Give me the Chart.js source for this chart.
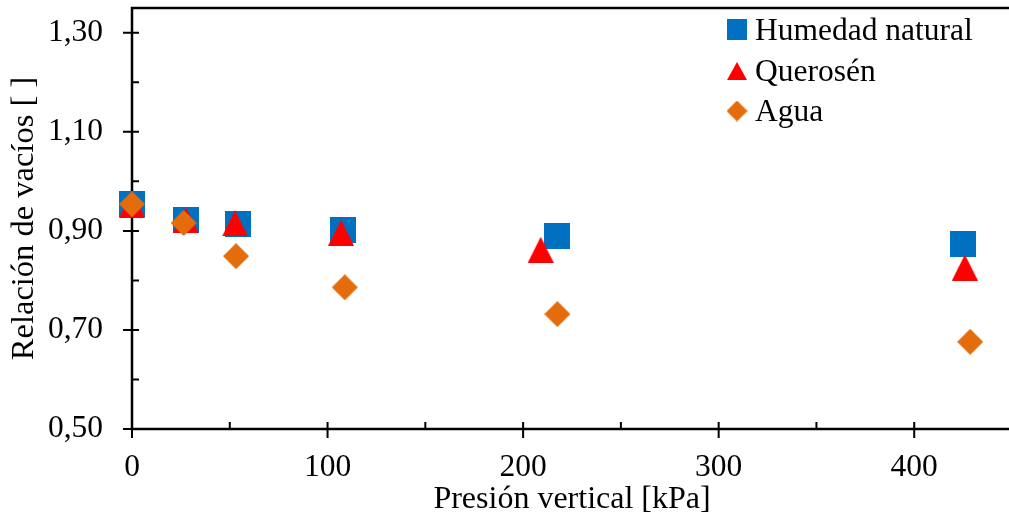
<!DOCTYPE html>
<html><head><meta charset="utf-8">
<script src="https://cdn.jsdelivr.net/npm/chart.js@4/dist/chart.umd.min.js"></script>
<style>html,body{margin:0;padding:0;overflow:hidden;background:#fff}#wrap{width:1012px;height:520px}</style>
</head><body><div id="wrap"><canvas id="c" width="1012" height="520"></canvas></div>
<script>
const serieNames = ['Humedad natural', 'Querosén', 'Agua'];
const presionHumedad = [0, 27.6, 54.2, 107.8, 217.5, 424.8];
const humedad = [0.955, 0.921, 0.913, 0.902, 0.889, 0.873];
const presionQuerosen = [0, 27.5, 52.7, 106.9, 209, 425.9];
const querosen = [0.953, 0.921, 0.915, 0.896, 0.862, 0.826];
const presionAgua = [0, 26.4, 53.2, 108.8, 217.5, 428.6];
const agua = [0.954, 0.916, 0.849, 0.786, 0.732, 0.676];
const xTicksMajor = [0, 100, 200, 300, 400];
const xTicksMinor = [50, 150, 250, 350];
const yTicksMajor = [0.5, 0.7, 0.9, 1.1, 1.3];
const yTicksMinor = [0.6, 0.8, 1.0, 1.2];
const xTitle = 'Presión vertical [kPa]';
const yTitle = 'Relación de vacíos [ ]';

const FONT = "'Liberation Serif', 'Times New Roman', serif";
const BLUE = '#0070C0', RED = '#FF0000', ORANGE = '#E46C0A';

function marker(kind, color, w, h) {
  const c = document.createElement('canvas');
  c.width = w; c.height = h;
  const g = c.getContext('2d');
  g.fillStyle = color;
  g.beginPath();
  if (kind === 'square') { g.rect(0, 0, w, h); }
  else if (kind === 'triangle') { g.moveTo(w / 2, 0); g.lineTo(w, h); g.lineTo(0, h); g.closePath(); }
  else { g.moveTo(w / 2, 0); g.lineTo(w, h / 2); g.lineTo(w / 2, h); g.lineTo(0, h / 2); g.closePath(); }
  g.fill();
  return c;
}

function pts(xs, ys) { return xs.map((x, i) => ({ x: x, y: ys[i] })); }

const datasets = [
  { label: serieNames[0], data: pts(presionHumedad, humedad), pointStyle: marker('square', BLUE, 26, 26), legendMarker: marker('square', BLUE, 20, 21), order: 3 },
  { label: serieNames[1], data: pts(presionQuerosen, querosen), pointStyle: marker('triangle', RED, 26, 26), legendMarker: marker('triangle', RED, 20, 18), order: 2 },
  { label: serieNames[2], data: pts(presionAgua, agua), pointStyle: marker('diamond', ORANGE, 26, 26), legendMarker: marker('diamond', ORANGE, 21, 21), order: 1 }
].map(d => Object.assign(d, { showLine: false, pointRadius: 13, clip: false, backgroundColor: '#000', borderColor: '#000' }));

const decor = {
  id: 'decor',
  beforeDatasetsDraw(chart) {
    const { ctx, chartArea: a, scales: { x, y } } = chart;
    const x0 = x.getPixelForValue(0), y0 = y.getPixelForValue(0.5);
    ctx.save();
    ctx.strokeStyle = '#000';
    ctx.lineWidth = 2.5;
    ctx.beginPath();
    ctx.moveTo(x0, a.top - 1.25); ctx.lineTo(x0, y0 + 1.25);
    ctx.moveTo(x0 - 1.25, y0); ctx.lineTo(a.right, y0);
    ctx.moveTo(x0 - 1.25, a.top); ctx.lineTo(a.right, a.top);
    ctx.stroke();
    ctx.lineWidth = 2;
    ctx.beginPath();
    xTicksMajor.forEach(v => { const p = x.getPixelForValue(v); ctx.moveTo(p, y0 - 7); ctx.lineTo(p, y0 + 9); });
    xTicksMinor.forEach(v => { const p = x.getPixelForValue(v); ctx.moveTo(p, y0 - 7); ctx.lineTo(p, y0); });
    yTicksMajor.forEach(v => { const p = y.getPixelForValue(v); ctx.moveTo(x0 - 9, p); ctx.lineTo(x0 + 7, p); });
    yTicksMinor.forEach(v => { const p = y.getPixelForValue(v); ctx.moveTo(x0, p); ctx.lineTo(x0 + 7, p); });
    ctx.stroke();
    ctx.restore();
  },
  afterDraw(chart) {
    const ctx = chart.ctx;
    const rowsMid = [29.5, 71, 111];
    const rowsBase = [40, 81, 121];
    ctx.save();
    ctx.font = '31.5px ' + FONT;
    ctx.fillStyle = '#000';
    ctx.textBaseline = 'alphabetic';
    ctx.textAlign = 'left';
    chart.data.datasets.forEach((d, i) => {
      const m = d.legendMarker;
      ctx.drawImage(m, 737 - m.width / 2, rowsMid[i] - m.height / 2);
      ctx.fillText(d.label, 755, rowsBase[i]);
    });
    ctx.restore();
  }
};

Chart.defaults.font.family = FONT;
Chart.defaults.color = '#000';

new Chart(document.getElementById('c'), {
  type: 'scatter',
  data: { datasets: datasets },
  plugins: [decor],
  options: {
    responsive: false,
    animation: false,
    devicePixelRatio: 1,
    layout: { autoPadding: false, padding: { top: 8, right: 0, bottom: 0, left: 0 } },
    plugins: { legend: { display: false }, tooltip: { enabled: false } },
    scales: {
      x: {
        type: 'linear', position: 'bottom', min: 0, max: 450,
        afterBuildTicks(s) { s.ticks = xTicksMajor.map(v => ({ value: v })); },
        afterFit(s) { s.height = 91; s.paddingLeft = 0; s.paddingRight = 0; s.paddingTop = 0; s.paddingBottom = 0; },
        ticks: { font: { size: 31.5 }, color: '#000', padding: 20, maxRotation: 0, autoSkip: false, callback: v => String(v) },
        grid: { display: false, drawTicks: false },
        border: { display: false },
        title: { display: true, text: xTitle, color: '#000', font: { size: 32, lineHeight: 1 }, padding: { top: 0, bottom: 4.5 } }
      },
      y: {
        type: 'linear', position: 'left', min: 0.5, max: 1.35,
        afterBuildTicks(s) { s.ticks = yTicksMajor.map(v => ({ value: v })); },
        afterFit(s) { s.width = 132; s.paddingLeft = 0; s.paddingRight = 0; s.paddingTop = 0; s.paddingBottom = 0; },
        ticks: { font: { size: 31.5 }, color: '#000', padding: 29, autoSkip: false, callback: v => v.toFixed(2).replace('.', ',') },
        grid: { display: false, drawTicks: false },
        border: { display: false },
        title: { display: true, text: yTitle, color: '#000', font: { size: 32.5, lineHeight: 1 }, padding: { top: 8.3, bottom: 0 } }
      }
    }
  }
});
</script>
</body></html>
